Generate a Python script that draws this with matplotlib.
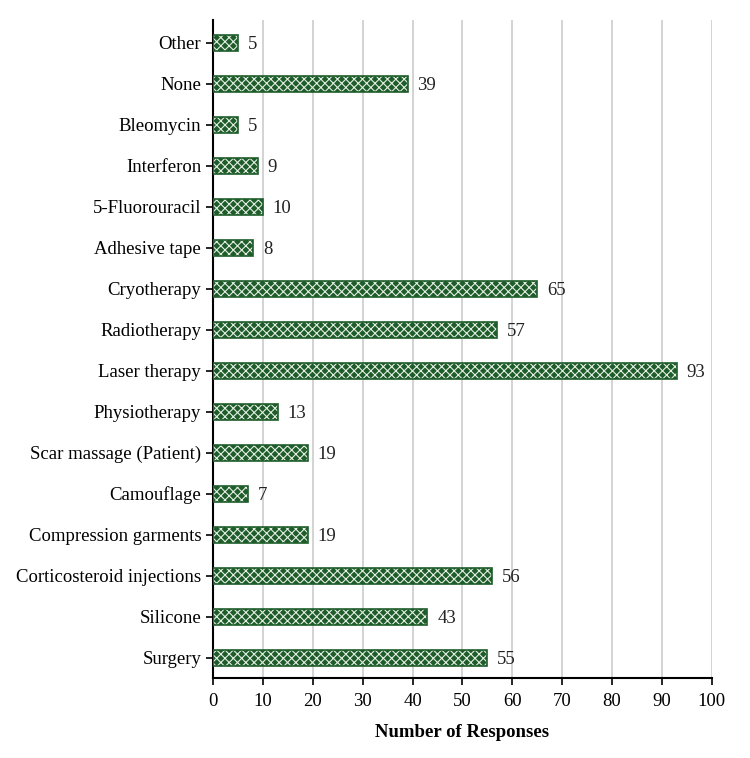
import matplotlib
matplotlib.use("Agg")
import matplotlib.pyplot as plt

categories = ["Surgery", "Silicone", "Corticosteroid injections", "Compression garments",
              "Camouflage", "Scar massage (Patient)", "Physiotherapy", "Laser therapy",
              "Radiotherapy", "Cryotherapy", "Adhesive tape", "5-Fluorouracil",
              "Interferon", "Bleomycin", "None", "Other"]
values = [55, 43, 56, 19, 7, 19, 13, 93, 57, 65, 8, 10, 9, 5, 39, 5]
xticks = [0, 10, 20, 30, 40, 50, 60, 70, 80, 90, 100]

plt.rcParams['font.family'] = ['Liberation Serif', 'DejaVu Serif']
plt.rcParams['hatch.linewidth'] = 0.8

fig = plt.figure(figsize=(7.5, 7.58), dpi=100)
ax = fig.add_axes([0.284, 0.1055, 0.665, 0.868])

green = "#1e5c2a"
y = list(range(len(categories)))
ax.barh(y, values, height=0.39, color=green, edgecolor="#e4eee4", hatch="xxxx", linewidth=0, zorder=3)
ax.barh(y, values, height=0.39, facecolor="none", edgecolor=green, linewidth=1.2, zorder=4)

for yi, v in zip(y, values):
    ax.text(v + 2.0, yi - 0.05, str(v), va="center", ha="left", fontsize=13.5, color="#222222")

ax.set_xlim(0, 100)
ax.set_ylim(-0.5, 15.55)
ax.set_xticks(xticks)
ax.set_yticks(y)
ax.set_yticklabels(categories, fontsize=13.5)
ax.tick_params(axis='x', labelsize=13.5, length=5, width=1.2, direction='out', pad=6)
ax.tick_params(axis='y', length=5, width=1.2, direction='out')
ax.grid(axis='x', color="#cccccc", linewidth=1.2, zorder=0)
ax.set_axisbelow(True)
for s in ["top", "right"]:
    ax.spines[s].set_visible(False)
for s in ["left", "bottom"]:
    ax.spines[s].set_linewidth(1.5)
    ax.spines[s].set_color("black")
ax.set_xlabel("Number of Responses", fontsize=13.5, fontweight="bold", labelpad=10)

fig.savefig("out.png", dpi=100)
